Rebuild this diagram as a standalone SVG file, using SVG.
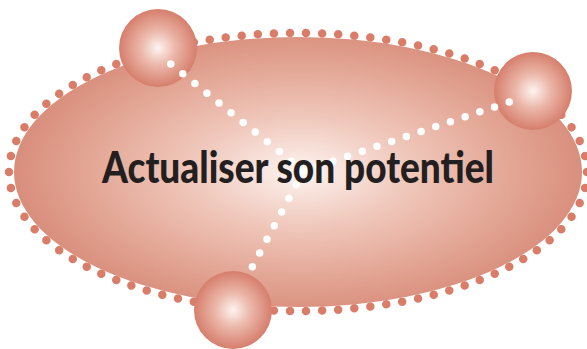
<svg xmlns="http://www.w3.org/2000/svg" width="587" height="349" viewBox="0 0 587 349">
  <defs>
    <radialGradient id="gEll" cx="300" cy="172" r="285" gradientUnits="userSpaceOnUse" gradientTransform="translate(300 172) scale(1 0.5) translate(-300 -172)">
      <stop offset="0" stop-color="#fdf4f1"/>
      <stop offset="0.35" stop-color="#f1cbbf"/>
      <stop offset="0.75" stop-color="#e3a594"/>
      <stop offset="1" stop-color="#d98e7c"/>
    </radialGradient>
    <radialGradient id="gSph" cx="0.5" cy="0.5" r="0.5">
      <stop offset="0" stop-color="#fdf3f0"/>
      <stop offset="0.45" stop-color="#ebb7a9"/>
      <stop offset="1" stop-color="#d67e6c"/>
    </radialGradient>
    <style>
      .rim { fill: none; stroke: #d97d69; stroke-width: 8.5; stroke-linecap: round; stroke-dasharray: 0 1; }
      .sph { fill: url(#gSph); }
      .link { fill: none; stroke: #ffffff; stroke-width: 7.5; stroke-linecap: round; stroke-dasharray: 0 15.5; }
      .title { font-family: "Lato", "Liberation Sans", sans-serif; font-weight: 900; font-size: 44px; fill: #231f20; }
    </style>
  </defs>
  <g id="main-ellipse">
    <ellipse class="rim" cx="298" cy="172" rx="289" ry="139" pathLength="86"/>
    <ellipse cx="298" cy="172" rx="284" ry="135" fill="url(#gEll)"/>
  </g>
  <g id="node-top-left">
    <circle class="sph" cx="158" cy="48" r="39"/>
  </g>
  <g id="node-right">
    <circle class="sph" cx="533" cy="91" r="39"/>
  </g>
  <g id="node-bottom">
    <circle class="sph" cx="233" cy="310" r="39"/>
  </g>
  <g id="connectors">
    <path class="link" d="M303.5 171 L162 57"/>
    <path class="link" d="M303.5 171 L518 99"/>
    <path class="link" d="M303.5 171 L249 273"/>
  </g>
  <g id="label">
    <text class="title" x="102" y="183" textLength="392" lengthAdjust="spacingAndGlyphs">Actualiser son potentiel</text>
  </g>
</svg>
